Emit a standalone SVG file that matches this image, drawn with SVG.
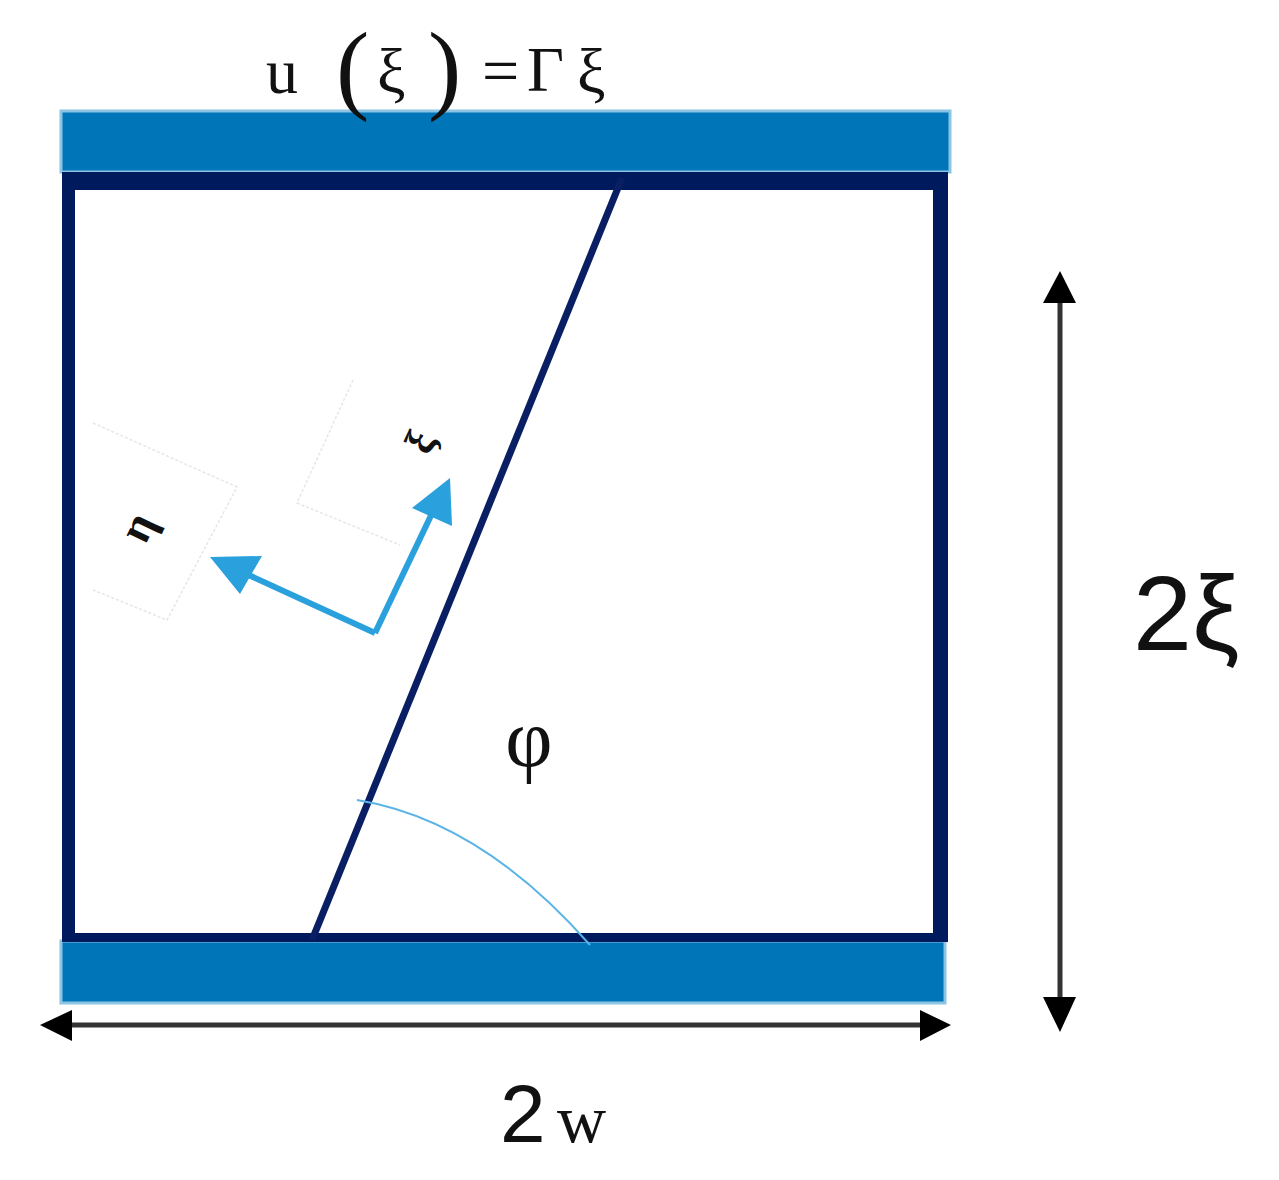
<svg xmlns="http://www.w3.org/2000/svg" width="1279" height="1180" viewBox="0 0 1279 1180">
<style>
.bar{fill:#0075b8;stroke:#8cc4e4;stroke-width:3}
.navy{fill:#001a5e}
.serif{font-family:"Liberation Serif","Times New Roman",serif;fill:#111}
.sans{font-family:"Liberation Sans",Arial,sans-serif;fill:#111}
.blue{stroke:#2aa0dc;stroke-width:6;fill:none}
.dim{stroke:#333;stroke-width:5;fill:none}
.faint{stroke:#e6e6e6;stroke-width:1.5;fill:none;stroke-dasharray:3 2}
</style>
<rect width="1279" height="1180" fill="#fff"/>
<g id="top-plate"><rect class="bar" x="61" y="111" width="889" height="61"/></g>
<g id="bottom-plate"><rect class="bar" x="61" y="941" width="884" height="62"/></g>
<g id="frame"><path class="navy" fill-rule="evenodd" d="M62,172 H948 V942 H62 Z M75,190 V933 H933 V190 Z"/></g>
<g id="crack"><line x1="622" y1="178" x2="312" y2="940" stroke="#0a1f63" stroke-width="7"/></g>
<g id="angle-arc"><path d="M357,800 Q480,820 590,945" fill="none" stroke="#5ab4e6" stroke-width="2"/></g>
<g id="faint-boxes">
<path class="faint" d="M93,423 L237,487 L167,620 L93,590"/>
<path class="faint" d="M353,380 L297,503 L400,545"/>
</g>
<g id="local-axes">
<line class="blue" x1="375" y1="633" x2="240" y2="571"/>
<line class="blue" x1="375" y1="633" x2="436" y2="505"/>
<polygon points="210,557 262,556 240,594" fill="#2aa0dc"/>
<polygon points="450,478 412,508 452,526" fill="#2aa0dc"/>
<text class="serif" font-size="46" font-weight="bold" transform="translate(137,527) rotate(-64)" text-anchor="middle" dominant-baseline="central">η</text>
<text class="serif" font-size="42" font-weight="bold" transform="translate(420,442) rotate(-64)" text-anchor="middle" dominant-baseline="central">ξ</text>
</g>
<g id="connectors">
<line class="dim" x1="70" y1="1025" x2="922" y2="1025"/>
<polygon points="40,1025 72,1010 72,1041" fill="#000"/>
<polygon points="951,1025 920,1010 920,1041" fill="#000"/>
<line class="dim" x1="1060" y1="300" x2="1060" y2="1000"/>
<polygon points="1060,271 1043,303 1076,303" fill="#000"/>
<polygon points="1060,1032 1043,997 1076,997" fill="#000"/>
</g>
<g id="labels">
<text class="serif" font-size="64" x="266" y="93">u</text>
<text class="serif" font-size="100" x="336" y="101">(</text>
<text class="serif" font-size="64" x="377" y="93">ξ</text>
<text class="serif" font-size="100" x="428" y="101">)</text>
<text class="serif" font-size="66" x="482" y="93">=</text>
<text class="serif" font-size="64" x="527" y="91">Γ</text>
<text class="serif" font-size="64" x="577" y="93">ξ</text>
<text class="serif" font-size="82" x="529" y="766" text-anchor="middle">φ</text>
<text class="sans" font-size="106" x="1133" y="650">2ξ</text>
<text class="sans" font-size="82" x="500" y="1142">2</text>
<text class="serif" font-size="68" x="557" y="1142">w</text>
</g>
</svg>
